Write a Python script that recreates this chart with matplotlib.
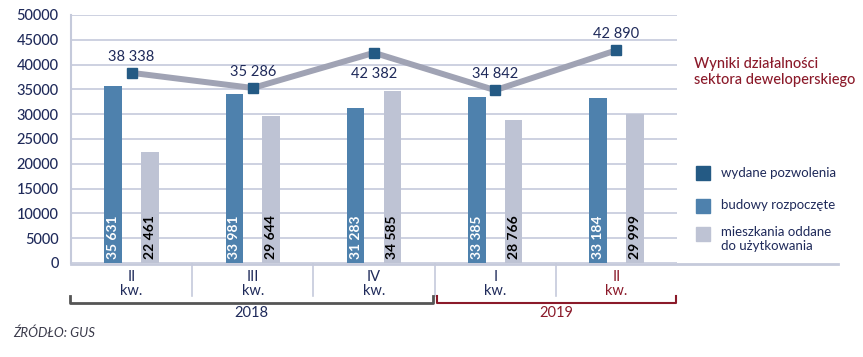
import matplotlib
matplotlib.use("Agg")
import matplotlib.pyplot as plt
from matplotlib.lines import Line2D
from matplotlib.patches import Rectangle
import numpy as np

plt.rcParams['font.family'] = ['Lato', 'DejaVu Sans']

quarters = ["II", "III", "IV", "I", "II"]
years = ["2018", "2019"]
permits = [38338, 35286, 42382, 34842, 42890]
started = [35631, 33981, 31283, 33385, 33184]
completed = [22461, 29644, 34585, 28766, 29999]
yticks = [0, 5000, 10000, 15000, 20000, 25000, 30000, 35000, 40000, 45000, 50000]
legend_labels = ["wydane pozwolenia", "budowy rozpoczęte", "mieszkania oddane\ndo użytkowania"]
title = "Wyniki działalności\nsektora deweloperskiego"
source = "ŹRÓDŁO: GUS"

C_PERM = "#245a84"
C_START = "#4e81ad"
C_COMP = "#bec3d4"
C_LINE = "#a0a3b4"
C_GRID = "#c5cadb"
NAVY = "#1f2a5a"
RED = "#8b1a2a"

def fmt(v):
    return f"{v:,}".replace(",", " ")

W, H = 863, 357
fig = plt.figure(figsize=(W/100, H/100), dpi=100)
L, R, T, B = 71, 677, 15, 263
ax = fig.add_axes([L/W, 1-B/H, (R-L)/W, (B-T)/H])

x = np.arange(len(quarters))
bw = 0.145
off = 0.152
ax.bar(x - off, started, width=bw, color=C_START, zorder=3)
ax.bar(x + off, completed, width=bw, color=C_COMP, zorder=3)
ax.plot(x, permits, color=C_LINE, lw=4.3, zorder=4, solid_joinstyle='miter')
ax.plot(x, permits, ls='none', marker='s', ms=7.5, color=C_PERM, zorder=5)

for i in range(len(x)):
    ax.text(x[i] - off, 800, fmt(started[i]), rotation=90, ha='center', va='bottom',
            color='white', fontsize=10, fontweight='bold', zorder=6)
    ax.text(x[i] + off, 800, fmt(completed[i]), rotation=90, ha='center', va='bottom',
            color='black', fontsize=10, fontweight='bold', zorder=6)
    dy = -15 if i == 2 else 11.5
    ax.annotate(fmt(permits[i]), (x[i], permits[i]), xytext=(0, dy), textcoords='offset points',
                ha='center', va='center', color=NAVY, fontsize=10.5, zorder=6)

ax.set_xlim(-0.5, len(x) - 0.5)
ax.set_ylim(0, 50000)
ax.set_yticks(yticks)
ax.set_yticklabels([str(v) for v in yticks], color=NAVY, fontsize=10.5, fontweight='medium')
ax.tick_params(axis='y', length=0, pad=9)
ax.set_xticks([])
ax.grid(axis='y', color=C_GRID, lw=1.2, zorder=0)
for s in ['top', 'right', 'bottom']:
    ax.spines[s].set_visible(False)
ax.spines['left'].set_color(C_GRID)
ax.spines['left'].set_linewidth(1.5)

def fx(px):
    return px / W
def fy(py):
    return 1 - py / H

# baseline extended under legend
fig.add_artist(Line2D([fx(L), fx(838)], [fy(264), fy(264)], color=C_GRID, lw=2))

# group separators and category labels
gw = (R - L) / len(x)
for i in range(1, len(x)):
    xs = L + i * gw
    fig.add_artist(Line2D([fx(xs), fx(xs)], [fy(264), fy(296)], color=C_GRID, lw=1.2))
for i, q in enumerate(quarters):
    xc = L + (i + 0.5) * gw
    col = RED if i == len(x) - 1 else NAVY
    fig.text(fx(xc), fy(284), q + "\nkw.", ha='center', va='center', color=col,
             fontsize=10.5, linespacing=0.95)

# year brackets
brackets = [(70, 433, "#555555", 2.0), (437, 676, RED, 1.5)]
for (x0, x1, col, lw), yr in zip(brackets, years):
    fig.add_artist(Line2D([fx(x0), fx(x0), fx(x1), fx(x1)], [fy(296), fy(303), fy(303), fy(296)],
                          color=col, lw=lw))
    fig.text(fx((x0 + x1) / 2), fy(313), yr, ha='center', va='center',
             color=(NAVY if yr == "2018" else RED), fontsize=10.5)

# title
fig.text(fx(694), fy(72), title, ha='left', va='center', color=RED, fontsize=10.5,
         linespacing=1.25, fontweight='medium')

# legend
leg_colors = [C_PERM, C_START, C_COMP]
leg_y = [173, 205.5, 234]
for c, yy, lab in zip(leg_colors, leg_y, legend_labels):
    fig.add_artist(Rectangle((fx(696), fy(yy + 7)), 14 / W, 14 / H, color=c, transform=fig.transFigure))
    if "\n" in lab:
        fig.text(fx(721), fy(226), lab, ha='left', va='top', color=NAVY, fontsize=9.5, linespacing=1.15)
    else:
        fig.text(fx(721), fy(yy), lab, ha='left', va='center', color=NAVY, fontsize=9.5)

fig.text(fx(13), fy(333), source, ha='left', va='center', color="#3a3a4a", fontsize=9.5,
         fontstyle='italic')

fig.savefig("out.png", dpi=100)
